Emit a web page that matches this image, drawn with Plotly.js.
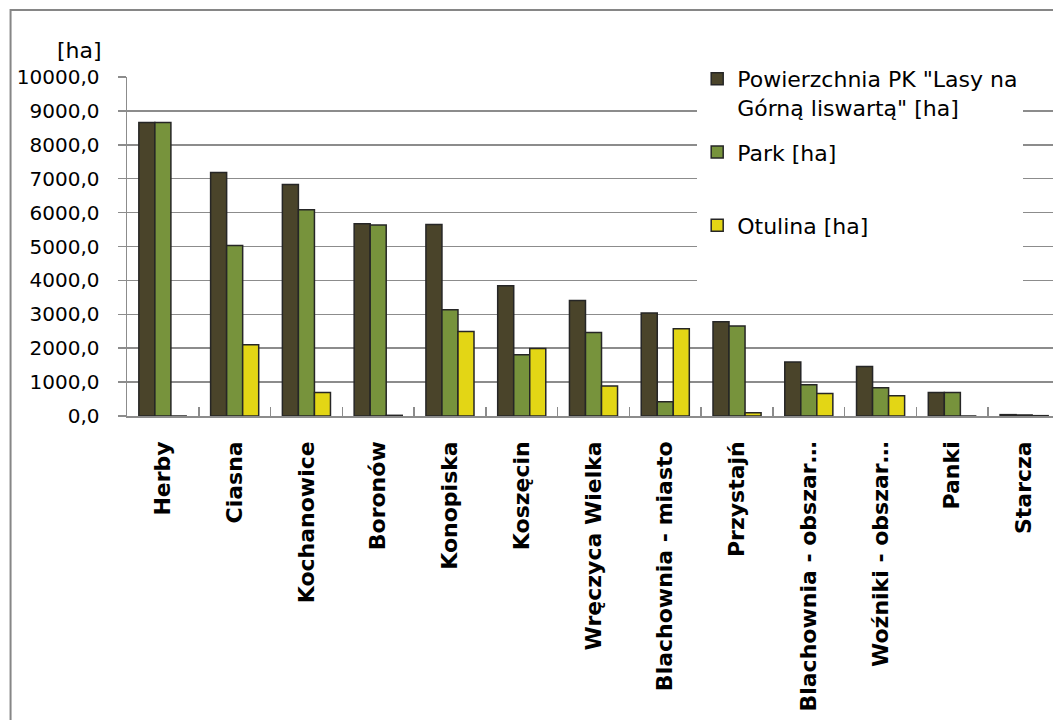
<!DOCTYPE html>
<html>
<head>
<meta charset="utf-8">
<script src="https://cdn.plot.ly/plotly-3.0.1.min.js"></script>
<style>
html, body { margin: 0; padding: 0; overflow: hidden; background: #fff; }
#chart { width: 1060px; height: 720px; }
</style>
</head>
<body>
<div id="chart"></div>
<script>
const categories = ["Herby", "Ciasna", "Kochanowice", "Boronów", "Konopiska", "Koszęcin",
  "Wręczyca Wielka", "Blachownia - miasto", "Przystajń", "Blachownia - obszar…",
  "Woźniki - obszar…", "Panki", "Starcza"];
const powierzchnia = [8655, 7186, 6832, 5673, 5652, 3844, 3410, 3035, 2782, 1590, 1463, 696, 40];
const park = [8655, 5032, 6085, 5631, 3136, 1808, 2466, 422, 2652, 923, 835, 696, 30];
const otulina = [0, 2103, 696, 20, 2496, 1994, 882, 2575, 97, 667, 599, 0, 10];
const seriesNames = ["Powierzchnia PK \"Lasy na<br>Górną liswartą\" [ha]", "Park [ha]<br> ", "Otulina [ha]<br> <br> "];
const yTickVals = [0, 1000, 2000, 3000, 4000, 5000, 6000, 7000, 8000, 9000, 10000];

const colors = ["#4a442a", "#77933c", "#e3d615"];
const series = [powierzchnia, park, otulina];

const traces = series.map((vals, i) => ({
  type: "bar",
  x: categories,
  y: vals,
  name: seriesNames[i],
  legendgroup: "g" + i,
  marker: { color: colors[i], line: { color: "#262626", width: 1.5 } },
  hoverinfo: "x+y"
}));

const PL = 126.5, PW = 933.5, AX = 415.6, PH = 338.6;
const px = v => (v - PL) / PW;
const py = v => (AX - v) / PH;

const layout = {
  width: 1060,
  height: 720,
  margin: { l: PL, r: 0, t: 77, b: 304.4, autoexpand: false },
  paper_bgcolor: "#ffffff",
  plot_bgcolor: "#ffffff",
  barmode: "group",
  bargap: 0.33,
  bargroupgap: 0,
  font: { family: "DejaVu Sans", color: "#000000" },
  xaxis: {
    type: "category",
    showline: true,
    linecolor: "#8c8c8c",
    linewidth: 1.5,
    ticks: "inside",
    tickson: "boundaries",
    ticklen: 9,
    tickwidth: 1.5,
    tickcolor: "#8c8c8c",
    tickangle: -90,
    ticklabelstandoff: 15,
    tickfont: { family: "DejaVu Sans", size: 22, weight: "bold", color: "#000000" },
    showgrid: false,
    zeroline: false
  },
  yaxis: {
    range: [0, 10000],
    tickvals: yTickVals,
    tickformat: ".1f",
    showline: true,
    linecolor: "#8c8c8c",
    linewidth: 1.5,
    ticks: "outside",
    ticklen: 8,
    tickwidth: 1.5,
    tickcolor: "#8c8c8c",
    ticklabelstandoff: 14,
    tickfont: { family: "DejaVu Sans", size: 20, color: "#000000" },
    showgrid: true,
    gridcolor: "#8c8c8c",
    gridwidth: 1.5,
    zeroline: false
  },
  separators: ", ",
  legend: {
    x: px(697), y: py(58),
    xanchor: "left", yanchor: "top",
    bgcolor: "#ffffff",
    valign: "top",
    traceorder: "grouped",
    tracegroupgap: 13,
    font: { family: "DejaVu Sans", size: 22, color: "#000000" }
  },
  annotations: [{
    text: "[ha]",
    xref: "paper", yref: "paper",
    x: px(103), y: py(51),
    xanchor: "right", yanchor: "middle",
    showarrow: false,
    font: { family: "DejaVu Sans", size: 22, color: "#000000" }
  }],
  shapes: [{
    type: "rect", xref: "paper", yref: "paper",
    x0: px(10), x1: 1.2,
    y0: -2, y1: py(10),
    line: { color: "#868686", width: 2 },
    fillcolor: "rgba(0,0,0,0)",
    layer: "below"
  }],
  showlegend: true
};

Plotly.newPlot("chart", traces, layout, { displayModeBar: false, staticPlot: true });
</script>
</body>
</html>
